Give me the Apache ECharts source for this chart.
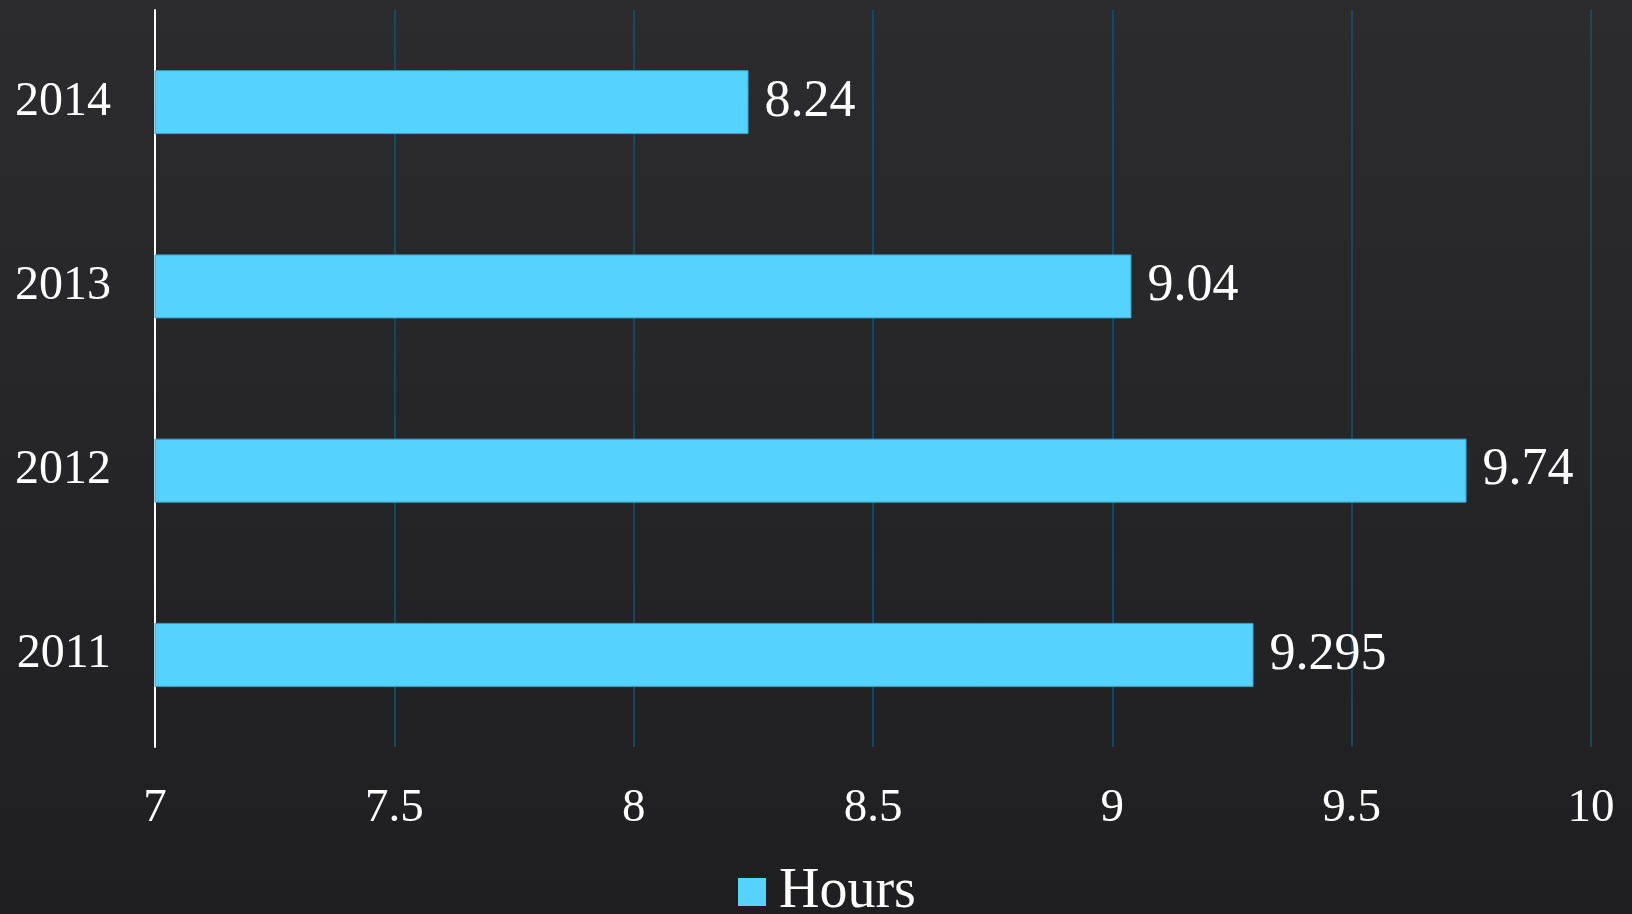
<!DOCTYPE html>
<html><head><meta charset="utf-8">
<script src="https://cdn.jsdelivr.net/npm/echarts@6/dist/echarts.min.js"></script>
<style>html,body{margin:0;padding:0;background:#262628}#c{width:1632px;height:914px}</style>
</head><body><div id="c"></div>
<script>
const categories = ['2011', '2012', '2013', '2014'];
const hours = [9.295, 9.74, 9.04, 8.24];
const xTicks = { min: 7, max: 10, interval: 0.5 };
const seriesName = 'Hours';

const FONT = '"Liberation Serif", "DejaVu Serif", serif';
const chart = echarts.init(document.getElementById('c'));
chart.setOption({
  backgroundColor: {
    type: 'linear', x: 0, y: 0, x2: 0, y2: 1,
    colorStops: [{ offset: 0, color: '#2c2c2e' }, { offset: 1, color: '#1f1f21' }]
  },
  animation: false,
  grid: { left: 155, right: 41, top: 10, bottom: 167, containLabel: false },
  legend: {
    data: [seriesName],
    top: 856, left: 733,
    itemWidth: 28, itemHeight: 28, itemGap: 10,
    icon: 'rect',
    itemStyle: { borderWidth: 0 },
    textStyle: { color: '#ffffff', fontFamily: FONT, fontSize: 56, lineHeight: 56, padding: [6, 0, 0, 8] }
  },
  xAxis: {
    type: 'value', min: xTicks.min, max: xTicks.max, interval: xTicks.interval,
    axisLine: { show: false }, axisTick: { show: false },
    splitLine: { show: true, lineStyle: { color: '#105570', width: 1.5 } },
    axisLabel: { color: '#ffffff', fontFamily: FONT, fontSize: 47, margin: 38 }
  },
  yAxis: {
    type: 'category', data: categories,
    axisLine: { show: true, lineStyle: { color: '#ffffff', width: 2 } },
    axisTick: { show: false },
    axisLabel: { color: '#ffffff', fontFamily: FONT, fontSize: 48, margin: 44 }
  },
  series: [{
    name: seriesName, type: 'bar', data: hours,
    barWidth: 64,
    itemStyle: { color: '#55d3fe', borderColor: '#3aa0c8', borderWidth: 1 },
    label: {
      show: true, position: 'right', distance: 16,
      color: '#ffffff', fontFamily: FONT, fontSize: 52, padding: [6, 0, 0, 0]
    }
  }]
});
</script></body></html>
